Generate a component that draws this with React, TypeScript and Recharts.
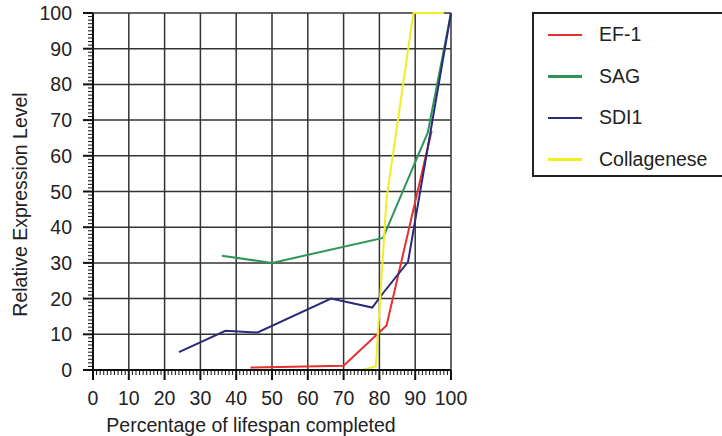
import React from "react";
import {
  LineChart,
  Line,
  XAxis,
  YAxis,
  CartesianGrid,
  Legend,
} from "recharts";

const FONT = "'Liberation Sans', Arial, Helvetica, sans-serif";

// values (x = % of lifespan, y = relative expression)
const EF1_X = [44, 70, 82, 94.6];
const EF1_Y = [0.7, 1.2, 12.5, 67];

const SAG_X = [36, 50, 81, 93.5, 100];
const SAG_Y = [32, 30, 37, 66.5, 100];

const SDI1_X = [24, 37, 46, 66.5, 78, 81, 88, 100];
const SDI1_Y = [5, 11, 10.5, 20, 17.5, 21.5, 30.3, 100];

const COLL_X = [75, 79, 82, 89.5, 98];
const COLL_Y = [0, 1, 48, 100, 100];

const MAJOR_TICKS = [0, 10, 20, 30, 40, 50, 60, 70, 80, 90, 100];
const MINOR_TICKS = Array.from({ length: 101 }, (_, i) => i);

const toPoints = (xs: number[], ys: number[]) =>
  xs.map((x, i) => ({ x, y: ys[i] }));

const SERIES = [
  { name: "EF-1", color: "#e4302e", data: toPoints(EF1_X, EF1_Y) },
  { name: "SAG", color: "#2f9558", data: toPoints(SAG_X, SAG_Y) },
  { name: "SDI1", color: "#2c2a7c", data: toPoints(SDI1_X, SDI1_Y) },
  { name: "Collagenese", color: "#f2ee22", data: toPoints(COLL_X, COLL_Y) },
];

const XTick = (props: any) => {
  const { x, y, payload } = props;
  const major = payload.value % 10 === 0;
  return (
    <g>
      <line
        x1={x}
        x2={x}
        y1={y}
        y2={y + (major ? 10 : 5)}
        stroke="#111"
        strokeWidth={major ? 2 : 1}
      />
      {major && (
        <text
          x={x}
          y={y + 28}
          dy="0.36em"
          textAnchor="middle"
          fontFamily={FONT}
          fontSize={19.5}
          fill="#222"
        >
          {payload.value}
        </text>
      )}
    </g>
  );
};

const YTick = (props: any) => {
  const { x, y, payload } = props;
  const major = payload.value % 10 === 0;
  return (
    <g>
      <line
        x1={x - (major ? 10 : 5)}
        x2={x}
        y1={y}
        y2={y}
        stroke="#111"
        strokeWidth={major ? 2 : 1}
      />
      {major && (
        <text
          x={x - 21}
          y={y}
          dy="0.36em"
          textAnchor="end"
          fontFamily={FONT}
          fontSize={19.5}
          fill="#222"
        >
          {payload.value}
        </text>
      )}
    </g>
  );
};

const XTitle = (props: any) => {
  const vb = props.viewBox || { x: 93, y: 370, width: 358, height: 66 };
  return (
    <text
      x={vb.x + vb.width / 2 - 21}
      y={vb.y + 55}
      dy="0.36em"
      textAnchor="middle"
      fontFamily={FONT}
      fontSize={19.5}
      fill="#222"
    >
      Percentage of lifespan completed
    </text>
  );
};

const YTitle = (props: any) => {
  const vb = props.viewBox || { x: 0, y: 13, width: 93, height: 357 };
  const cx = vb.x + 20;
  const cy = vb.y + vb.height / 2 + 13;
  return (
    <text
      x={cx}
      y={cy}
      dy="0.36em"
      textAnchor="middle"
      transform={`rotate(-90, ${cx}, ${cy})`}
      fontFamily={FONT}
      fontSize={19.5}
      fill="#222"
    >
      Relative Expression Level
    </text>
  );
};

const LegendBox = (props: any) => {
  const payload = props.payload || [];
  const items = SERIES.map(
    (s) =>
      payload.find((p: any) => p.value === s.name) || {
        value: s.name,
        color: s.color,
      }
  );
  return (
    <div
      style={{
        width: 200,
        minWidth: 200,
        flexShrink: 0,
        height: 165,
        boxSizing: "border-box",
        borderTop: "2px solid #222",
        borderLeft: "2px solid #222",
        borderBottom: "2px solid #222",
        background: "#fff",
        fontFamily: FONT,
        fontSize: 19.5,
        color: "#222",
      }}
    >
      {items.map((item: any) => (
        <div
          key={item.value}
          style={{ display: "flex", alignItems: "center", height: 41.5 }}
        >
          <div
            style={{
              marginLeft: 14,
              width: 34,
              height: 2.5,
              background: item.color,
            }}
          />
          <span style={{ marginLeft: 17, lineHeight: 1 }}>{item.value}</span>
        </div>
      ))}
    </div>
  );
};

export default function App() {
  return (
    <div
      style={{
        position: "absolute",
        left: 0,
        top: 0,
        width: 722,
        height: 436,
        overflow: "hidden",
        background: "#fff",
      }}
    >
      <LineChart
        width={722}
        height={436}
        margin={{ top: 13, right: 271, bottom: 0, left: 0 }}
      >
        <CartesianGrid
          stroke="#333"
          strokeWidth={1.5}
          horizontalValues={MAJOR_TICKS}
          verticalValues={MAJOR_TICKS}
        />
        <XAxis
          type="number"
          dataKey="x"
          domain={[0, 100]}
          ticks={MINOR_TICKS}
          interval={0}
          height={66}
          tickSize={0}
          tickMargin={0}
          tick={<XTick />}
          tickLine={false}
          axisLine={{ stroke: "#111", strokeWidth: 2 }}
          label={{ content: <XTitle /> }}
        />
        <YAxis
          type="number"
          domain={[0, 100]}
          ticks={MINOR_TICKS}
          interval={0}
          width={93}
          tickSize={0}
          tickMargin={0}
          tick={<YTick />}
          tickLine={false}
          axisLine={{ stroke: "#111", strokeWidth: 2 }}
          label={{ content: <YTitle /> }}
        />
        <Legend
          layout="vertical"
          align="center"
          verticalAlign="middle"
          content={<LegendBox />}
          wrapperStyle={{ position: "absolute", left: 532, top: 12, width: 200 }}
        />
        {SERIES.map((s) => (
          <Line
            key={s.name}
            name={s.name}
            data={s.data}
            dataKey="y"
            type="linear"
            stroke={s.color}
            strokeWidth={2}
            dot={false}
            activeDot={false}
            isAnimationActive={false}
          />
        ))}
      </LineChart>
    </div>
  );
}
